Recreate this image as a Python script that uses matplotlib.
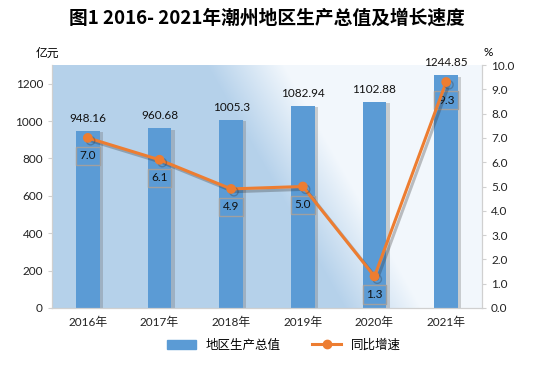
import numpy as np
import matplotlib.pyplot as plt
import matplotlib.patheffects as pe
from matplotlib.lines import Line2D
from matplotlib.patches import Patch

plt.rcParams['font.family'] = ['Lato', 'Noto Sans CJK SC', 'DejaVu Sans']

# 数据
years = ['2016年', '2017年', '2018年', '2019年', '2020年', '2021年']
gdp = [948.16, 960.68, 1005.3, 1082.94, 1102.88, 1244.85]
gdp_labels = ['948.16', '960.68', '1005.3', '1082.94', '1102.88', '1244.85']
growth = [7.0, 6.1, 4.9, 5.0, 1.3, 9.3]

bar_color = '#5b9bd5'
line_color = '#ed7d31'

fig = plt.figure(figsize=(5.34, 3.68), dpi=100)
ax = fig.add_axes([52 / 534, 60 / 368, 430 / 534, 243 / 368])
ax2 = ax.twinx()

# 背景渐变 (左下蓝 -> 右上白)
u, v = np.meshgrid(np.linspace(0, 1, 300), np.linspace(0, 1, 200))
s = u - 0.38 - 0.32 * (1 - v)
w = np.clip((s + 0.02) / 0.18, 0, 1)
c0 = np.array([0.71, 0.82, 0.92])
c1 = np.array([0.95, 0.97, 0.99])
img = c0[None, None, :] * (1 - w[..., None]) + c1[None, None, :] * w[..., None]
ax.imshow(img, extent=[0, 1, 0, 1], transform=ax.transAxes, origin='lower',
          aspect='auto', zorder=0)

x = np.arange(len(years))
bars = ax.bar(x, gdp, width=0.33, color=bar_color, zorder=2,
              path_effects=[pe.SimplePatchShadow(offset=(2.5, -1), shadow_rgbFace='#6a6a6a', alpha=0.3),
                            pe.Normal()])
for xi, val, lab in zip(x, gdp, gdp_labels):
    ax.annotate(lab, (xi, val), xytext=(0, 5), textcoords='offset points',
                ha='center', va='bottom', fontsize=8.5, color='#111111', zorder=5)

ax.set_xlim(-0.5, 5.5)
ax.set_ylim(0, 1300)
ax.set_yticks(range(0, 1201, 200))
ax.set_xticks(x)
ax.set_xticklabels(years)

ax2.set_ylim(0, 10)
ax2.set_yticks(np.arange(0, 10.01, 1.0))
ax2.set_yticklabels(['%.1f' % t for t in np.arange(0, 10.01, 1.0)])
ax2.plot(x, growth, color=line_color, lw=2.2, marker='o', ms=6, zorder=4,
         path_effects=[pe.SimpleLineShadow(offset=(2, -2), shadow_color='#333333', alpha=0.3),
                       pe.Normal()])
for xi, val in zip(x, growth):
    ax2.annotate('%.1f' % val, (xi, val), xytext=(0, -13), textcoords='offset points',
                 ha='center', va='center', fontsize=8.5, color='#111111',
                 bbox=dict(boxstyle='square,pad=0.3', fc='none', ec='#a0a0a0', lw=1))

for a in (ax, ax2):
    for sp in a.spines.values():
        sp.set_color('#d0d0d0')
    a.spines['top'].set_visible(False)
    a.tick_params(colors='#d0d0d0', labelcolor='#222222', labelsize=8.5, length=3)
ax.tick_params(axis='x', length=0, pad=6)

fig.text(0.5, 1 - 18 / 368, '图1 2016- 2021年潮州地区生产总值及增长速度', ha='center', va='center',
         fontsize=13.5, fontweight='bold', family=['Noto Sans CJK SC'])
fig.text(47 / 534, 1 - 53 / 368, '亿元', ha='center', va='center', fontsize=8.5,
         family=['Noto Sans CJK SC'])
fig.text(488 / 534, 1 - 52 / 368, '%', ha='center', va='center', fontsize=8.5)

handles = [Patch(color=bar_color, label='地区生产总值'),
           Line2D([], [], color=line_color, lw=2.2, marker='o', ms=6, label='同比增速')]
fig.legend(handles=handles, loc='center', bbox_to_anchor=(284 / 534, 1 - 345 / 368), ncol=2,
           frameon=False, handlelength=2.3, columnspacing=2.5,
           prop={'family': ['Noto Sans CJK SC'], 'size': 9})

fig.savefig('out.png', dpi=100)
